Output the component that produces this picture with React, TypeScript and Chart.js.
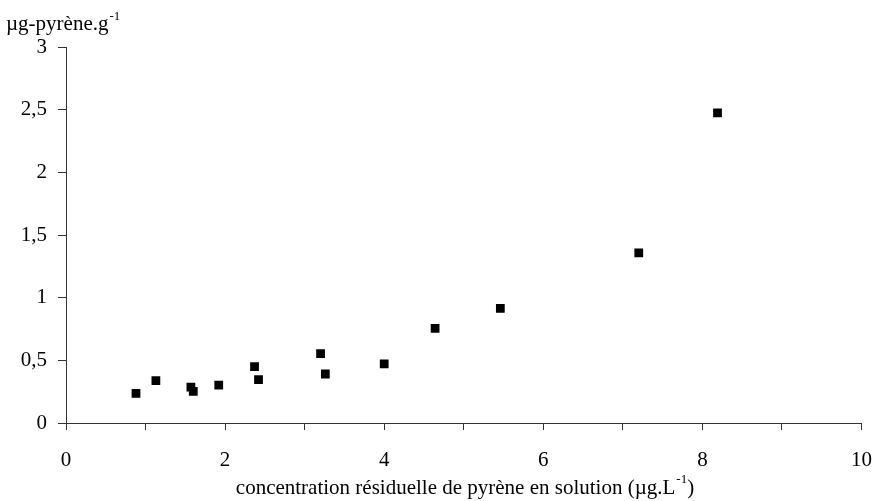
import React, { useEffect, useRef } from "react";
import { Chart, registerables } from "chart.js";

Chart.register(...registerables);

const xValues = [0.88, 1.13, 1.57, 1.6, 1.92, 2.37, 2.42, 3.2, 3.26, 4.0, 4.64, 5.46, 7.2, 8.19];
const yValues = [0.236, 0.338, 0.287, 0.252, 0.303, 0.449, 0.346, 0.553, 0.391, 0.471, 0.755, 0.915, 1.357, 2.474];

const xTitle = "concentration résiduelle de pyrène en solution (µg.L";
const xTitleSup = "-1";
const xTitleEnd = ")";
const yTitle = "µg-pyrène.g";
const yTitleSup = "-1";

const FONT = "'Liberation Serif', 'Times New Roman', serif";

const titlePlugin = {
  id: "titles",
  afterDraw(chart: any) {
    const ctx = chart.ctx;
    ctx.save();
    ctx.fillStyle = "#000";
    ctx.textBaseline = "alphabetic";
    ctx.textAlign = "left";
    // y title
    ctx.font = `21px ${FONT}`;
    ctx.fillText(yTitle, 6, 30);
    const w1 = ctx.measureText(yTitle).width;
    ctx.font = `13px ${FONT}`;
    ctx.fillText(yTitleSup, 6 + w1 + 1, 20);
    // x title
    ctx.font = `21px ${FONT}`;
    const a = ctx.measureText(xTitle).width;
    ctx.font = `13px ${FONT}`;
    const b = ctx.measureText(xTitleSup).width;
    ctx.font = `21px ${FONT}`;
    const c = ctx.measureText(xTitleEnd).width;
    const total = a + b + 1 + c;
    const cx = 465;
    let x = cx - total / 2;
    const base = 494;
    ctx.fillText(xTitle, x, base);
    x += a;
    ctx.font = `13px ${FONT}`;
    ctx.fillText(xTitleSup, x + 1, base - 11);
    x += b + 1;
    ctx.font = `21px ${FONT}`;
    ctx.fillText(xTitleEnd, x, base);
    ctx.restore();
  },
};

export default function App() {
  const ref = useRef<HTMLCanvasElement | null>(null);
  useEffect(() => {
    document.body.style.margin = "0";
    const data = xValues.map((x, i) => ({ x, y: yValues[i] }));
    const chart = new Chart(ref.current!, {
      type: "scatter",
      data: {
        datasets: [
          {
            data,
            backgroundColor: "#000",
            borderColor: "#000",
            borderWidth: 0,
            pointStyle: "rect",
            pointRadius: 6.2,
          },
        ],
      },
      options: {
        responsive: false,
        animation: false,
        layout: { padding: { left: 0, top: 47, right: 17.5, bottom: 0 } },
        plugins: { legend: { display: false }, tooltip: { enabled: false } },
        scales: {
          x: {
            type: "linear",
            min: 0,
            max: 10,
            afterFit(scale: any) {
              scale.height = 78;
              scale.paddingLeft = 0;
              scale.paddingRight = 0;
            },
            border: { display: true, color: "#333", width: 1 },
            grid: { display: true, drawOnChartArea: false, drawTicks: true, tickLength: 7, color: "#333" },
            ticks: {
              stepSize: 1,
              padding: 18,
              color: "#000",
              font: { family: FONT, size: 21 },
              maxRotation: 0,
              autoSkip: false,
              callback: (v: any) => (Number(v) % 2 === 0 ? String(v) : ""),
            },
          },
          y: {
            type: "linear",
            min: 0,
            max: 3,
            afterFit(scale: any) {
              scale.width = 66;
              scale.paddingTop = 0;
              scale.paddingBottom = 0;
            },
            border: { display: true, color: "#333", width: 1 },
            grid: { display: true, drawOnChartArea: false, drawTicks: true, tickLength: 8, color: "#333" },
            ticks: {
              stepSize: 0.5,
              padding: 11,
              color: "#000",
              font: { family: FONT, size: 21 },
              callback: (v: any) => String(v).replace(".", ","),
            },
          },
        },
      },
      plugins: [titlePlugin],
    });
    return () => chart.destroy();
  }, []);
  return (
    <div style={{ position: "absolute", left: 0, top: 0, width: 879, height: 501, background: "#fff" }}>
      <canvas ref={ref} width={879} height={501} style={{ width: 879, height: 501 }} />
    </div>
  );
}
